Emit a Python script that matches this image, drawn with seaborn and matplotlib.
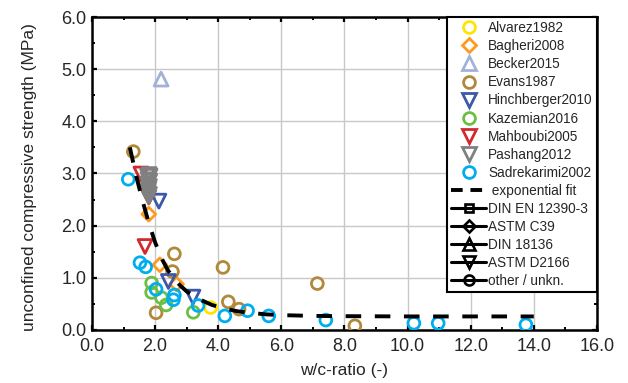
import numpy as np
import pandas as pd
import matplotlib
matplotlib.use("Agg")
import matplotlib.pyplot as plt
from matplotlib.lines import Line2D
from matplotlib.ticker import MultipleLocator, FormatStrFormatter
import seaborn as sns

# ---------------- data ----------------
alvarez_x = [3.76]
alvarez_y = [0.43]
bagheri_x = [1.80, 2.15, 2.68]
bagheri_y = [2.22, 1.25, 0.88]
becker_x = [2.19]
becker_y = [4.81]
evans_x = [1.31, 2.61, 2.55, 2.03, 4.15, 4.32, 4.66, 7.14, 8.33]
evans_y = [3.42, 1.46, 1.12, 0.33, 1.20, 0.54, 0.40, 0.89, 0.08]
hinch_x = [2.12, 2.42, 3.20]
hinch_y = [2.47, 0.93, 0.63]
kazem_x = [1.89, 1.89, 2.20, 2.35, 3.21]
kazem_y = [0.90, 0.72, 0.62, 0.48, 0.34]
mahb_x = [1.55, 1.65, 1.80, 1.68]
mahb_y = [2.99, 2.75, 2.55, 1.60]
pash_x = [1.76, 1.84, 1.78, 1.83, 1.76, 1.82, 1.80, 1.78, 1.82, 1.80, 1.81]
pash_y = [2.95, 2.95, 2.88, 2.85, 2.80, 2.75, 2.70, 2.65, 2.60, 2.55, 2.98]
sadre_x = [1.15, 1.52, 1.70, 2.03, 2.61, 2.58, 3.36, 4.21, 4.93, 5.60, 7.41, 10.20, 10.97, 13.75]
sadre_y = [2.89, 1.29, 1.21, 0.78, 0.67, 0.58, 0.47, 0.27, 0.37, 0.27, 0.19, 0.13, 0.13, 0.10]

fit_x = [1.2, 1.4, 1.6, 1.8, 2.0, 2.2, 2.4, 2.6, 2.8, 3.0, 3.4, 3.8, 4.2, 4.6, 5.0, 5.5, 6.0, 7.0, 8.0, 10.0, 12.0, 14.0]
fit_y = [3.50, 2.95, 2.48, 2.05, 1.68, 1.38, 1.15, 0.98, 0.85, 0.74, 0.59, 0.48, 0.41, 0.36, 0.33, 0.30, 0.285, 0.27, 0.265, 0.26, 0.26, 0.26]

studies = ["Alvarez1982", "Bagheri2008", "Becker2015", "Evans1987", "Hinchberger2010",
           "Kazemian2016", "Mahboubi2005", "Pashang2012", "Sadrekarimi2002"]
colors = ["#FFE400", "#FF9A1E", "#A3B1D9", "#B0893A", "#3D58A8",
          "#6DBE45", "#D2282E", "#808080", "#00AEEF"]
markers = ["o", "D", "^", "o", "v", "o", "v", "v", "o"]
xs = [alvarez_x, bagheri_x, becker_x, evans_x, hinch_x, kazem_x, mahb_x, pash_x, sadre_x]
ys = [alvarez_y, bagheri_y, becker_y, evans_y, hinch_y, kazem_y, mahb_y, pash_y, sadre_y]

standards = ["DIN EN 12390-3", "ASTM C39", "DIN 18136", "ASTM D2166", "other / unkn."]
std_markers = ["s", "D", "^", "v", "o"]

# ---------------- style ----------------
sns.set_style("ticks")
plt.rcParams["font.family"] = ["Liberation Sans", "DejaVu Sans"]

fig = plt.figure(figsize=(6.28, 3.83), dpi=100)
ax = fig.add_axes([0.1465, 0.1384, 0.804, 0.8172])

msize = {"o": 8.5, "D": 7.0, "^": 10.0, "v": 10.0, "s": 7.5}

for name, c, m, x, y in zip(studies, colors, markers, xs, ys):
    df = pd.DataFrame({"x": x, "y": y})
    sns.scatterplot(data=df, x="x", y="y", ax=ax, marker=m, s=msize[m] ** 2,
                    facecolors="none", edgecolors=c, linewidth=2.0,
                    zorder=3, legend=False)

fit_df = pd.DataFrame({"x": fit_x, "y": fit_y})
sns.lineplot(data=fit_df, x="x", y="y", ax=ax, color="black", lw=2.8,
             linestyle=(0, (4, 3.5)), sort=False, estimator=None, zorder=4)

ax.set_xlim(0, 16)
ax.set_ylim(0, 6)
ax.xaxis.set_major_locator(MultipleLocator(2))
ax.xaxis.set_minor_locator(MultipleLocator(1))
ax.yaxis.set_major_locator(MultipleLocator(1))
ax.yaxis.set_minor_locator(MultipleLocator(0.5))
ax.xaxis.set_major_formatter(FormatStrFormatter("%.1f"))
ax.yaxis.set_major_formatter(FormatStrFormatter("%.1f"))
ax.grid(True, which="major", color="#c8c8c8", lw=1.0, zorder=0)
ax.set_axisbelow(True)
for s in ax.spines.values():
    s.set_linewidth(1.8)
    s.set_color("black")
ax.tick_params(which="both", direction="in", top=True, right=True, color="black")
ax.tick_params(which="major", length=3.5, width=1.6, labelsize=13)
ax.tick_params(axis="x", which="major", pad=5.5)
ax.tick_params(axis="y", which="major", pad=4)
ax.tick_params(which="minor", length=2.5, width=1.4)

ax.set_xlabel("w/c-ratio (-)", fontsize=12.5, labelpad=6)
ax.set_ylabel("unconfined compressive strength (MPa)", fontsize=12.5)
ax.yaxis.set_label_coords(-0.109, 0.49)

# ---------------- legend ----------------
handles = []
labels = []
for name, c, m in zip(studies, colors, markers):
    handles.append(Line2D([], [], ls="none", marker=m, ms=msize[m], mfc="none",
                          mec=c, mew=2.0))
    labels.append(name)
handles.append(Line2D([], [], color="black", lw=2.8, ls=(0, (3, 2))))
labels.append(" exponential fit")
for lab, m in zip(standards, std_markers):
    handles.append(Line2D([], [], color="black", lw=2.2, marker=m, ms=msize[m] * 0.85,
                          mfc="none", mec="black", mew=1.9))
    labels.append(lab)

leg = ax.legend(handles, labels, loc="upper right", bbox_to_anchor=(1, 1),
                borderaxespad=0, fontsize=9.8, handlelength=2.6, handletextpad=0.15,
                labelspacing=0.30, borderpad=0.3, frameon=True, fancybox=False,
                framealpha=1, edgecolor="black")
leg.get_frame().set_linewidth(1.5)
leg.set_zorder(10)

fig.savefig("out.png", dpi=100)
